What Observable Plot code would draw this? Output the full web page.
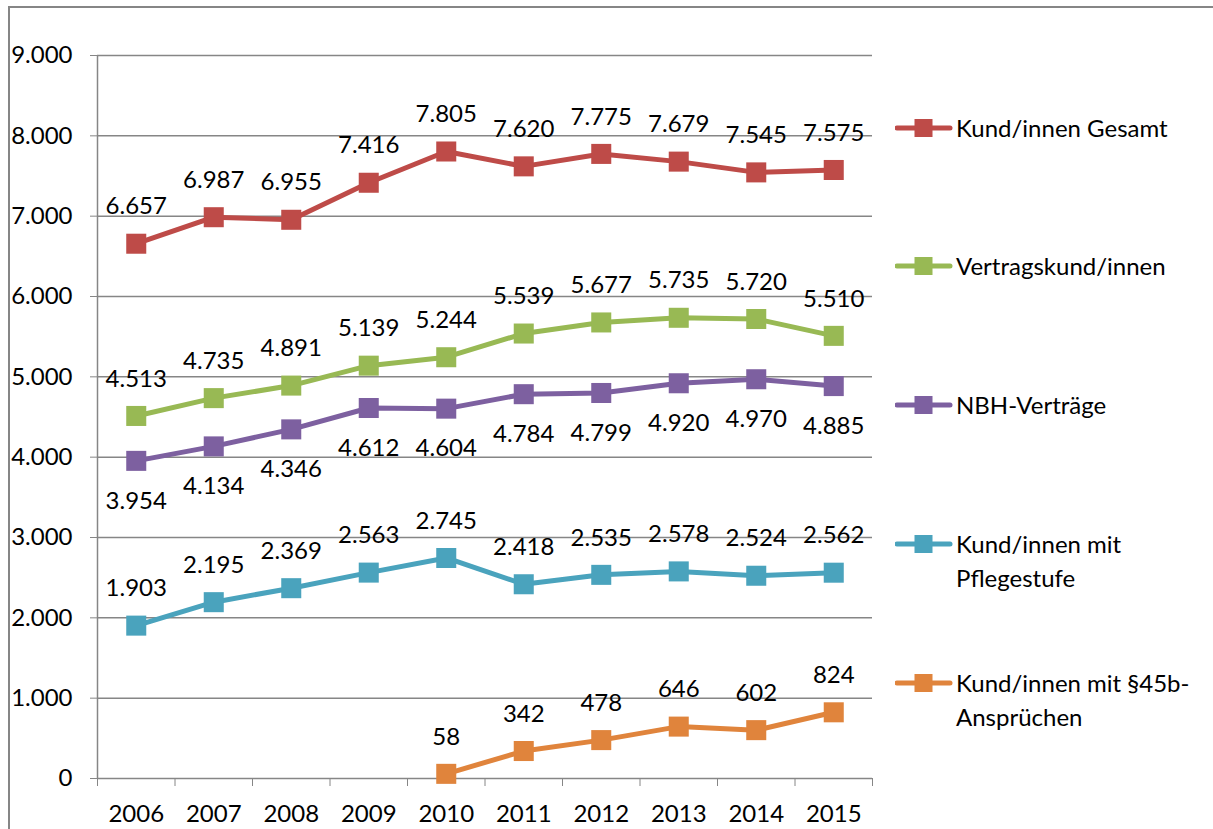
<!DOCTYPE html>
<html>
<head>
<meta charset="utf-8">
<script src="https://cdn.jsdelivr.net/npm/d3@7"></script>
<script src="https://cdn.jsdelivr.net/npm/@observablehq/plot@0.6"></script>
<style>
  html, body { margin: 0; padding: 0; overflow: hidden; background: #fff; font-family: Lato, "Open Sans", sans-serif; }
  #wrap { position: relative; width: 1213px; height: 829px; overflow: hidden; }
  #frameTop { position: absolute; left: 8px; top: 6px; width: 1205px; height: 2px; background: #868686; }
  #frameLeft { position: absolute; left: 8px; top: 6px; width: 2px; height: 823px; background: #868686; }
  #chart { position: absolute; left: 0; top: 0; }
  .leg { position: absolute; left: 895px; font-size: 24px; line-height: 34px; color: #000; }
  .leg svg { position: absolute; left: 0; top: 7px; }
  .leg span { position: absolute; left: 61px; top: 0; white-space: nowrap; }
</style>
</head>
<body>
<div id="wrap">
  <div id="frameTop"></div>
  <div id="frameLeft"></div>
  <div id="chart"></div>
  <div id="legend"></div>
</div>
<script>
const years = [2006, 2007, 2008, 2009, 2010, 2011, 2012, 2013, 2014, 2015];
const gesamt = [6657, 6987, 6955, 7416, 7805, 7620, 7775, 7679, 7545, 7575];
const vertrag = [4513, 4735, 4891, 5139, 5244, 5539, 5677, 5735, 5720, 5510];
const nbh = [3954, 4134, 4346, 4612, 4604, 4784, 4799, 4920, 4970, 4885];
const pflege = [1903, 2195, 2369, 2563, 2745, 2418, 2535, 2578, 2524, 2562];
const s45b = [null, null, null, null, 58, 342, 478, 646, 602, 824];
const yTicks = [0, 1000, 2000, 3000, 4000, 5000, 6000, 7000, 8000, 9000];

const seriesNames = ["Kund/innen Gesamt", "Vertragskund/innen", "NBH-Verträge", "Kund/innen mit Pflegestufe", "Kund/innen mit §45b-Ansprüchen"];
const seriesLegend = ["Kund/innen Gesamt", "Vertragskund/innen", "NBH-Verträge", "Kund/innen mit<br>Pflegestufe", "Kund/innen mit §45b-<br>Ansprüchen"];
const seriesValues = [gesamt, vertrag, nbh, pflege, s45b];
const seriesColors = ["#BE4B48", "#98B954", "#7D60A0", "#4AA3BD", "#E0843C"];
const labelBelow = [false, false, true, false, false];

const de = d3.formatLocale({decimal: ",", thousands: ".", grouping: [3], currency: ["", "€"]});
const fmt = de.format(",d");

const data = [];
seriesValues.forEach((vals, i) => {
  vals.forEach((v, j) => {
    if (v != null) data.push({series: seriesNames[i], idx: i, year: years[j], value: v});
  });
});

const marks = [
  Plot.ruleY(yTicks.filter(d => d > 0), {stroke: "#868686", strokeWidth: 1.5}),
  Plot.ruleY([0], {stroke: "#868686", strokeWidth: 1.5}),
  Plot.ruleX([2005.5], {y1: 0, y2: 9000, stroke: "#868686", strokeWidth: 1.5}),
  Plot.axisY(yTicks, {tickSize: 7, tickPadding: 18, tickFormat: fmt, fontSize: 24, stroke: "#868686", color: "#000", label: null}),
  Plot.axisX(d3.range(2005.5, 2016, 1), {tickSize: 8, tickFormat: () => "", stroke: "#868686", label: null}),
  Plot.axisX(years, {tickSize: 0, tickPadding: 26, tickFormat: d => String(d), fontSize: 24, color: "#000", label: null})
];

seriesNames.forEach((name, i) => {
  const d = data.filter(r => r.idx === i);
  marks.push(Plot.line(d, {x: "year", y: "value", stroke: seriesColors[i], strokeWidth: 5}));
});
seriesNames.forEach((name, i) => {
  const d = data.filter(r => r.idx === i);
  marks.push(Plot.dot(d, {x: "year", y: "value", symbol: "square", r: 11.3, fill: seriesColors[i], stroke: "none"}));
});
seriesNames.forEach((name, i) => {
  const d = data.filter(r => r.idx === i);
  marks.push(Plot.text(d, {x: "year", y: "value", text: r => fmt(r.value), dy: labelBelow[i] ? 40 : -37, fontSize: 24, fill: "#000"}));
});

const chart = Plot.plot({
  width: 1213,
  height: 829,
  marginLeft: 97,
  marginRight: 341,
  marginTop: 55,
  marginBottom: 51,
  style: {fontFamily: "Lato, 'Open Sans', sans-serif", background: "transparent"},
  x: {type: "linear", domain: [2005.5, 2015.5]},
  y: {domain: [0, 9000]},
  marks
});
document.getElementById("chart").appendChild(chart);

const legendTops = [128, 266, 405, 544, 683];
const legend = document.getElementById("legend");
seriesNames.forEach((name, i) => {
  const item = document.createElement("div");
  item.className = "leg";
  item.style.top = (legendTops[i] - 17) + "px";
  item.innerHTML = `<svg width="58" height="20"><line x1="2" y1="10" x2="55" y2="10" stroke="${seriesColors[i]}" stroke-width="5" stroke-linecap="round"/><rect x="19.5" y="1" width="18" height="18" fill="${seriesColors[i]}"/></svg><span>${seriesLegend[i]}</span>`;
  legend.appendChild(item);
});
</script>
</body>
</html>
